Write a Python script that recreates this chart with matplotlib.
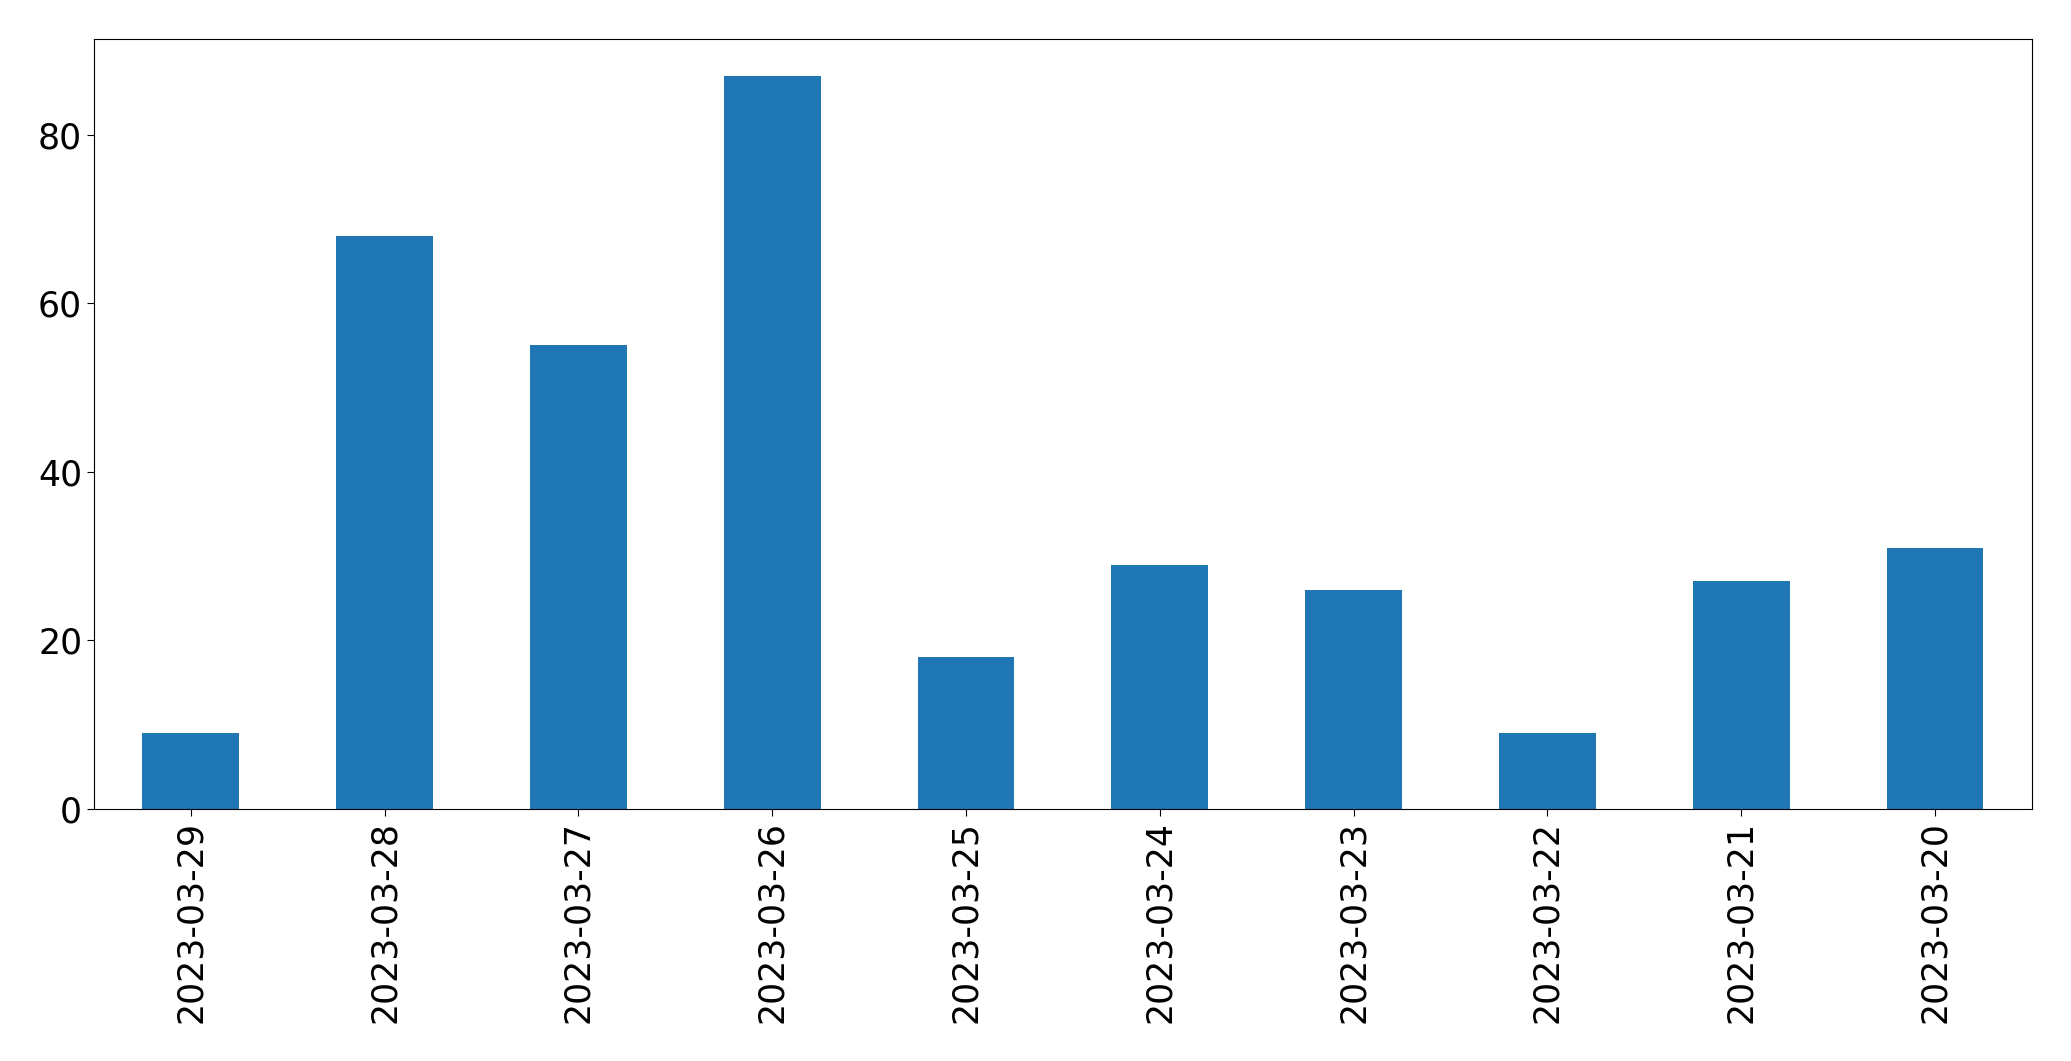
import matplotlib
matplotlib.use("Agg")
import matplotlib.pyplot as plt

dates = ["2023-03-29", "2023-03-28", "2023-03-27", "2023-03-26", "2023-03-25",
         "2023-03-24", "2023-03-23", "2023-03-22", "2023-03-21", "2023-03-20"]
counts = [9, 68, 55, 87, 18, 29, 26, 9, 27, 31]

fig = plt.figure(figsize=(20.71, 10.61), dpi=100)
ax = fig.add_axes([0.0454, 0.2375, 0.9357, 0.7257])
x = list(range(len(dates)))
ax.bar(x, counts, width=0.5, color="#1f77b4")
ax.set_xlim(-0.5, len(dates) - 0.5)
ax.set_ylim(0, max(counts) * 1.05)
ax.set_xticks(x)
ax.set_xticklabels(dates, rotation=90)
ax.set_yticks([0, 20, 40, 60, 80])
ax.tick_params(axis="both", labelsize=25, length=5)
fig.savefig("out.png", dpi=100)
